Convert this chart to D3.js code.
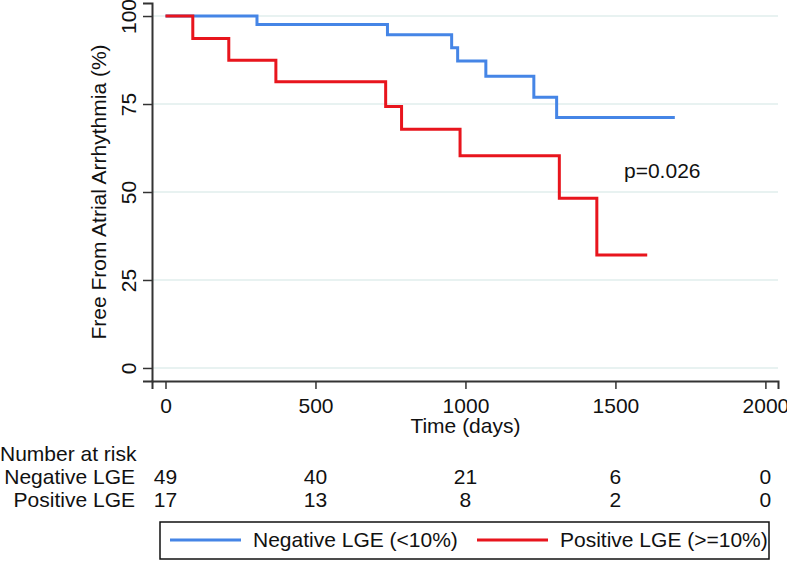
<!DOCTYPE html>
<html>
<head>
<meta charset="utf-8">
<script src="https://cdn.jsdelivr.net/npm/d3@7"></script>
<style>
  body { margin: 0; background: #fff; }
  svg { display: block; font-family: "Liberation Sans", Arial, sans-serif; }
</style>
</head>
<body>
<div class="svg-container"></div>
<script>
// data
const timeTicks = [0, 500, 1000, 1500, 2000];
const survTicks = [0, 25, 50, 75, 100];
const negTimes = [0, 305, 740, 954, 974, 1068, 1228, 1304, 1698];
const negSurv = [100, 97.6, 94.7, 91.0, 87.2, 82.9, 76.9, 71.2, 71.2];
const posTimes = [0, 91, 211, 368, 734, 787, 982, 1313, 1438, 1606];
const posSurv = [100, 93.6, 87.4, 81.3, 74.3, 67.8, 60.3, 48.2, 32.1, 32.1];
const groupNames = ["Negative LGE", "Positive LGE"];
const legendTitles = ["Negative LGE (<10%)", "Positive LGE (>=10%)"];
const riskNeg = [49, 40, 21, 6, 0];
const riskPos = [17, 13, 8, 2, 0];
const pValue = "p=0.026";

const legendColours = ["#4585e6", "#e8151d"];
const width = 787, height = 561;
const fs = 21;

const svg = d3.select(".svg-container")
  .append("svg")
  .attr("width", width)
  .attr("height", height);

// X - TIME
const xScale = d3.scaleLinear()
  .domain([-45, 2042])
  .range([152, 778]);

// Y - SURVIVAL
const yScale = d3.scaleLinear()
  .domain([-3.7, 103.7])
  .range([381, 3]);

// grid
svg.append("g")
  .selectAll("line")
  .data(survTicks)
  .enter()
  .append("line")
  .attr("x1", 152)
  .attr("x2", 778)
  .attr("y1", d => yScale(d))
  .attr("y2", d => yScale(d))
  .style("stroke", "#e1eeec")
  .style("stroke-width", 1.5);

// curves
const line = d3.line()
  .x(d => xScale(d[0]))
  .y(d => yScale(d[1]))
  .curve(d3.curveStepAfter);

const series = [
  negTimes.map((t, i) => [t, negSurv[i]]),
  posTimes.map((t, i) => [t, posSurv[i]])
];

svg.selectAll(".km")
  .data(series)
  .enter()
  .append("path")
  .attr("class", "km")
  .attr("d", d => line(d))
  .style("fill", "none")
  .style("stroke", (d, i) => legendColours[i])
  .style("stroke-width", 3);

// axes
const xAxis = d3.axisBottom(xScale)
  .tickValues(timeTicks)
  .tickFormat(d3.format("d"))
  .tickSizeOuter(0)
  .tickSize(8)
  .tickPadding(9);

const yAxis = d3.axisLeft(yScale)
  .tickValues(survTicks)
  .tickFormat(d3.format("d"))
  .tickSizeOuter(0)
  .tickSize(9)
  .tickPadding(7);

const gx = svg.append("g")
  .attr("id", "x-axis")
  .attr("transform", "translate(0,381)")
  .call(xAxis);

const gy = svg.append("g")
  .attr("id", "y-axis")
  .attr("transform", "translate(152,0)")
  .call(yAxis);

[gx, gy].forEach(g => {
  g.select(".domain").style("stroke", "#333").style("stroke-width", 2);
  g.selectAll(".tick line").style("stroke", "#333").style("stroke-width", 1.5);
  g.selectAll(".tick text")
    .style("font-size", fs + "px")
    .style("font-family", "Liberation Sans, Arial, sans-serif")
    .style("fill", "#111");
});

// rotate y tick labels like stata
gy.selectAll(".tick text")
  .attr("x", null)
  .attr("dy", null)
  .attr("text-anchor", "middle")
  .attr("transform", "translate(-24,0) rotate(-90)")
  .attr("dominant-baseline", "central");

// axis titles
svg.append("text")
  .attr("transform", "translate(98," + yScale(50) + ") rotate(-90)")
  .attr("text-anchor", "middle")
  .attr("dominant-baseline", "central")
  .style("font-size", fs + "px")
  .style("fill", "#111")
  .text("Free From Atrial Arrhythmia (%)");

svg.append("text")
  .attr("x", xScale(1000))
  .attr("y", 433)
  .attr("text-anchor", "middle")
  .style("font-size", fs + "px")
  .style("fill", "#111")
  .text("Time (days)");

// p value
svg.append("text")
  .attr("x", 624)
  .attr("y", 178)
  .style("font-size", fs + "px")
  .style("fill", "#111")
  .text(pValue);

// number at risk
svg.append("text")
  .attr("x", 0)
  .attr("y", 461)
  .style("font-size", fs + "px")
  .style("fill", "#111")
  .text("Number at risk");

const riskRows = [riskNeg, riskPos];
riskRows.forEach((row, r) => {
  const yy = 484 + r * 23;
  svg.append("text")
    .attr("x", 135)
    .attr("y", yy)
    .attr("text-anchor", "end")
    .style("font-size", fs + "px")
    .style("fill", "#111")
    .text(groupNames[r]);
  svg.selectAll(".risk" + r)
    .data(row)
    .enter()
    .append("text")
    .attr("class", "risk" + r)
    .attr("x", (d, i) => xScale(timeTicks[i]))
    .attr("y", yy)
    .attr("text-anchor", "middle")
    .style("font-size", fs + "px")
    .style("fill", "#111")
    .text(d => d);
});

// LEGEND
const legend = svg.append("g").attr("id", "legend");
legend.append("rect")
  .attr("x", 160)
  .attr("y", 522)
  .attr("width", 609)
  .attr("height", 37)
  .style("fill", "#fff")
  .style("stroke", "#111")
  .style("stroke-width", 1.5);

const legX = [170, 477];
legend.selectAll(".legline")
  .data(legendColours)
  .enter()
  .append("line")
  .attr("class", "legline")
  .attr("x1", (d, i) => legX[i])
  .attr("x2", (d, i) => legX[i] + 71)
  .attr("y1", 540)
  .attr("y2", 540)
  .style("stroke", d => d)
  .style("stroke-width", 3);

legend.selectAll(".legtext")
  .data(legendTitles)
  .enter()
  .append("text")
  .attr("class", "legtext")
  .attr("x", (d, i) => legX[i] + 83)
  .attr("y", 547)
  .style("font-size", fs + "px")
  .style("fill", "#111")
  .text(d => d);
</script>
</body>
</html>
